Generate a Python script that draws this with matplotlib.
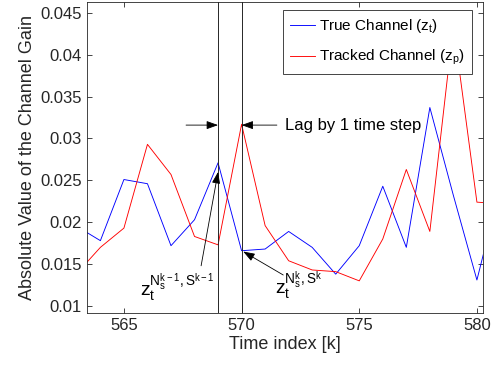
import matplotlib
matplotlib.use("Agg")
import matplotlib.pyplot as plt
from matplotlib.ticker import FormatStrFormatter

plt.rcParams['font.family'] = ['Liberation Sans', 'DejaVu Sans']
plt.rcParams['mathtext.fontset'] = 'custom'
plt.rcParams['mathtext.rm'] = 'Liberation Sans'
plt.rcParams['mathtext.it'] = 'Liberation Sans'

# time index k
time_idx = [563, 564, 565, 566, 567, 568, 569, 570, 571, 572,
            573, 574, 575, 576, 577, 578, 579, 580, 581]
# |z_t| true channel
true_gain = [0.0195, 0.0178, 0.0251, 0.0246, 0.0172, 0.0203, 0.0271, 0.0166, 0.0168, 0.0189,
             0.0170, 0.0138, 0.0172, 0.0243, 0.0170, 0.0337, 0.0232, 0.0131, 0.0243]
# |z_p| tracked channel
tracked_gain = [0.0139, 0.0170, 0.0193, 0.0293, 0.0257, 0.0183, 0.0173, 0.0317, 0.0196, 0.0154,
                0.0143, 0.0141, 0.0130, 0.0180, 0.0263, 0.0189, 0.0435, 0.0224, 0.0222]

x_ticks = [565, 570, 575, 580]
y_ticks = [0.01, 0.015, 0.02, 0.025, 0.03, 0.035, 0.04, 0.045]
marked_steps = [569, 570]

fig = plt.figure(figsize=(4.99, 3.71), dpi=100)
ax = fig.add_axes([0.1743, 0.1563, 0.7937, 0.8383])

ax.plot(time_idx, true_gain, color='blue', lw=0.65, label='True Channel ($\\mathregular{z_t}$)')
ax.plot(time_idx, tracked_gain, color='red', lw=0.65, label='Tracked Channel ($\\mathregular{z_p}$)')

for k in marked_steps:
    ax.axvline(k, color='0.15', lw=0.7)

ax.set_xlim(563.43, 580.26)
ax.set_ylim(0.00916, 0.0463)
ax.set_xticks(x_ticks)
ax.set_yticks(y_ticks)
ax.yaxis.set_major_formatter(FormatStrFormatter('%g'))
ax.tick_params(direction='in', length=3.5, width=0.6, colors='0.15',
               labelsize=12, top=True, right=True, labelcolor='0.15')
for s in ax.spines.values():
    s.set_color('0.15')
    s.set_linewidth(0.6)

ax.set_xlabel('Time index [k]', fontsize=13, color='0.15', labelpad=2)
ax.set_ylabel('Absolute Value of the Channel Gain', fontsize=13, color='0.15', labelpad=3)

arrow = dict(arrowstyle='-|>,head_length=0.7,head_width=0.25', color='black', lw=0.6,
             shrinkA=0, shrinkB=0)
# lag arrows
ax.annotate('', xy=(569, 0.0316), xytext=(567.64, 0.0316), arrowprops=arrow)
ax.annotate('', xy=(570, 0.0316), xytext=(571.5, 0.0316), arrowprops=arrow)
ax.text(571.86, 0.0316, 'Lag by 1 time step', fontsize=12, va='center', ha='left')

# pointers to the two samples
ax.annotate('', xy=(569, 0.0260), xytext=(568.28, 0.0148), arrowprops=arrow)
ax.text(567.26, 0.0122, '$\\mathregular{z_t^{N_s^{k-1},S^{k-1}}}$', fontsize=14,
        ha='center', va='center')
ax.annotate('', xy=(570.07, 0.0165), xytext=(571.77, 0.0137), arrowprops=arrow)
ax.text(572.41, 0.0124, '$\\mathregular{z_t^{N_s^k,S^k}}$', fontsize=14,
        ha='center', va='center')

leg = ax.legend(loc='upper right', bbox_to_anchor=(0.972, 0.974), borderaxespad=0,
                fontsize=11, fancybox=False, framealpha=1, edgecolor='0.15',
                handlelength=1.6, handletextpad=0.3, labelspacing=0.85, borderpad=0.45)
leg.get_frame().set_linewidth(0.6)

fig.savefig('out.png', dpi=100)
